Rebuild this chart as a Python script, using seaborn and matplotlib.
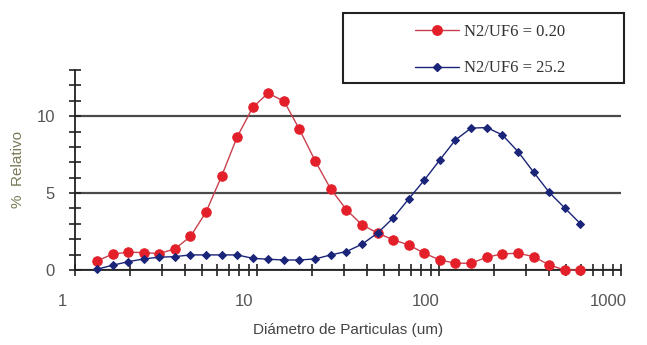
import matplotlib
matplotlib.use("Agg")
import matplotlib.pyplot as plt
from matplotlib.lines import Line2D
from matplotlib.patches import Rectangle
from matplotlib.ticker import FixedLocator, MultipleLocator, NullFormatter
from matplotlib.transforms import ScaledTranslation
import numpy as np
import pandas as pd
import seaborn as sns

# Particle diameter bins (um)
diameter = [1.32, 1.61, 1.96, 2.38, 2.90, 3.54, 4.31, 5.25, 6.39, 7.78, 9.48,
            11.5, 14.1, 17.1, 20.9, 25.4, 31.0, 37.7, 46.0, 56.0, 68.2, 83.0,
            101, 123, 150, 183, 223, 272, 331, 403, 491, 598]

# % relative frequency, N2/UF6 = 0.20
rel_020 = [0.59, 1.03, 1.16, 1.13, 1.07, 1.37, 2.18, 3.77, 6.10, 8.65, 10.57,
           11.5, 10.96, 9.15, 7.08, 5.27, 3.92, 2.94, 2.40, 1.96, 1.63, 1.09,
           0.65, 0.44, 0.44, 0.83, 1.05, 1.09, 0.87, 0.33, 0.0, 0.0]

# % relative frequency, N2/UF6 = 25.2
rel_252 = [0.05, 0.31, 0.54, 0.72, 0.83, 0.87, 0.98, 0.98, 0.98, 0.98, 0.76,
           0.70, 0.65, 0.65, 0.72, 0.98, 1.20, 1.67, 2.40, 3.38, 4.62, 5.84,
           7.15, 8.45, 9.22, 9.26, 8.78, 7.69, 6.36, 5.05, 4.03, 3.01]

series_labels = ["N2/UF6 = 0.20", "N2/UF6 = 25.2"]
x_ticks = [1, 10, 100, 1000]
x_tick_labels = ["1", "10", "100", "1000"]
y_ticks = [0, 5, 10]

RED = "#e3202a"
RED_LINE = "#c8404e"
BLUE = "#1a2478"

sns.set_theme(style="white")
plt.rcParams["font.family"] = ["Liberation Sans", "DejaVu Sans"]

fig = plt.figure(figsize=(6.47, 3.45), dpi=100)
ax = fig.add_axes([0.1159, 0.2174, 0.9598 - 0.1159, 0.7971 - 0.2174])

df_a = pd.DataFrame({"d": diameter, "pct": rel_020})
df_b = pd.DataFrame({"d": diameter, "pct": rel_252})

sns.lineplot(data=df_a, x="d", y="pct", ax=ax, color=RED_LINE, lw=1.0,
             marker="o", markersize=6.8, markerfacecolor=RED,
             markeredgecolor=RED, clip_on=False, zorder=4)
sns.lineplot(data=df_b, x="d", y="pct", ax=ax, color=BLUE, lw=1.0,
             marker="D", markersize=4.5, markerfacecolor=BLUE,
             markeredgecolor=BLUE, clip_on=False, zorder=5)

ax.set_xscale("log")
ax.set_xlim(1, 1000)
ax.set_ylim(0, 13)

ax.xaxis.set_major_locator(FixedLocator(x_ticks))
ax.set_xticklabels(x_tick_labels)
ax.xaxis.set_minor_formatter(NullFormatter())
ax.yaxis.set_major_locator(FixedLocator(y_ticks))
ax.yaxis.set_minor_locator(MultipleLocator(1))

for side in ("top", "right"):
    ax.spines[side].set_visible(False)
for side in ("left", "bottom"):
    ax.spines[side].set_color("#222222")
    ax.spines[side].set_linewidth(1.3)

ax.tick_params(which="both", direction="inout", color="#222222", width=1.2,
               bottom=True, left=True, top=False, right=False,
               labelsize=12, labelcolor="#555555")
ax.tick_params(which="major", length=9)
ax.tick_params(which="minor", length=8)
ax.tick_params(axis="x", which="major", pad=13)
ax.tick_params(axis="y", which="major", pad=10)

ax.grid(axis="y", which="major", color="#4a4a4a", lw=1.6)
ax.set_axisbelow(True)

shift = ScaledTranslation(-13 / 100, 0, fig.dpi_scale_trans)
for lab in ax.get_xticklabels():
    lab.set_transform(lab.get_transform() + shift)

ax.set_xlabel("Diámetro de Particulas (um)", fontsize=11, color="#444444",
              labelpad=10)
ax.set_ylabel("%  Relativo", fontsize=11, color="#7a7a58", labelpad=8)

# Legend box drawn in figure coordinates, above the plot area
fig.patches.append(Rectangle((343 / 647, 1 - 83 / 345), 281 / 647, 70 / 345,
                             transform=fig.transFigure, fill=False,
                             edgecolor="#222222", lw=1.5))
handles = [
    Line2D([], [], color=RED_LINE, lw=1.0, marker="o", markersize=6.8,
           markerfacecolor=RED, markeredgecolor=RED),
    Line2D([], [], color=BLUE, lw=1.0, marker="D", markersize=4.5,
           markerfacecolor=BLUE, markeredgecolor=BLUE),
]
fig.legend(handles, series_labels, loc="center",
           bbox_to_anchor=(490 / 647, 1 - 50 / 345), frameon=False,
           prop={"family": "Liberation Serif", "size": 12},
           handlelength=2.6, labelspacing=1.25, handletextpad=0.3,
           labelcolor="#333333")

fig.savefig("out.png", dpi=100)
